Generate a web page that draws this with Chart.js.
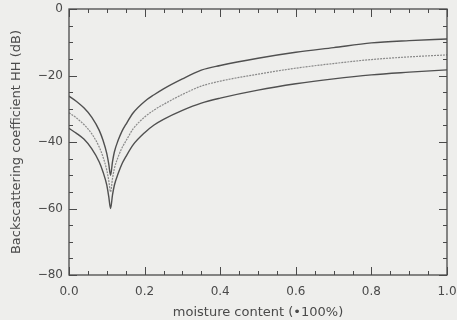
<!DOCTYPE html>
<html lang="en">
<head>
    <meta charset="UTF-8">
    <title>Backscattering vs moisture</title>
    <script src="https://cdn.jsdelivr.net/npm/chart.js"></script>
    <style>
        body { margin: 0; background: #eeeeec; }
        #wrap { width: 457px; height: 320px; }
    </style>
</head>
<body>
    <div id="wrap"><canvas id="chart" width="457" height="320"></canvas></div>

    <script>
        // moisture content (fraction)
        const moisture = [0, 0.02, 0.04, 0.06, 0.08, 0.09, 0.1, 0.105, 0.11, 0.115, 0.12, 0.13, 0.14, 0.15, 0.17,
                          0.2, 0.225, 0.25, 0.3, 0.35, 0.4, 0.5, 0.6, 0.7, 0.8, 0.9, 1.0];
        // backscattering HH (dB): upper bound, mean, lower bound
        const upperHH = [-26.2, -27.8, -29.8, -32.5, -36.5, -39.5, -43.5, -46.5, -50, -46, -43, -39.5, -36.8, -34.8, -31.2,
                         -27.8, -25.8, -24, -21, -18.4, -17, -14.8, -13, -11.6, -10.2, -9.5, -9];
        const meanHH  = [-31.2, -32.8, -34.8, -37.5, -41.5, -44.5, -48.5, -51.5, -55, -51, -48, -44.5, -41.8, -39.8, -36,
                         -32.5, -30.4, -28.7, -25.7, -23.2, -21.7, -19.6, -17.8, -16.4, -15.2, -14.4, -13.8];
        const lowerHH = [-35.9, -37.4, -39.2, -42, -46, -49, -53, -56.3, -60, -56, -53, -49.5, -46.6, -44.5, -40.8,
                         -37.2, -34.9, -33.2, -30.5, -28.3, -26.8, -24.4, -22.5, -21, -19.8, -19, -18.3];

        const xTicks = [0, 0.2, 0.4, 0.6, 0.8, 1.0];
        const yTicks = [-80, -60, -40, -20, 0];

        const ink = '#4a4a4a';

        function toPoints(ys) {
            return moisture.map((x, i) => ({ x: x, y: ys[i] }));
        }

        // frame with inward ticks on all four sides (IDL style)
        const frameTicks = {
            id: 'frameTicks',
            afterDraw(chart) {
                const ctx = chart.ctx;
                const a = chart.chartArea;
                const xs = chart.scales.x;
                const ys = chart.scales.y;
                ctx.save();
                ctx.strokeStyle = ink;
                ctx.lineWidth = 1.3;
                ctx.strokeRect(a.left, a.top, a.right - a.left, a.bottom - a.top);
                ctx.lineWidth = 1;
                ctx.beginPath();
                for (let v = 0; v <= 1.0001; v += 0.05) {
                    const px = Math.round(xs.getPixelForValue(v)) + 0.5;
                    const len = xTicks.some(t => Math.abs(t - v) < 1e-6) ? 8 : 4;
                    ctx.moveTo(px, a.bottom); ctx.lineTo(px, a.bottom - len);
                    ctx.moveTo(px, a.top); ctx.lineTo(px, a.top + len);
                }
                for (let v = -80; v <= 0; v += 5) {
                    const py = Math.round(ys.getPixelForValue(v)) + 0.5;
                    const len = yTicks.includes(v) ? 8 : 4;
                    ctx.moveTo(a.left, py); ctx.lineTo(a.left + len, py);
                    ctx.moveTo(a.right, py); ctx.lineTo(a.right - len, py);
                }
                ctx.stroke();
                ctx.restore();
            }
        };

        const lineStyle = {
            showLine: true,
            pointRadius: 0,
            fill: false,
            cubicInterpolationMode: 'monotone'
        };

        new Chart(document.getElementById('chart').getContext('2d'), {
            type: 'scatter',
            data: {
                datasets: [
                    Object.assign({ label: 'upper', data: toPoints(upperHH), borderColor: '#505050', borderWidth: 1.4 }, lineStyle),
                    Object.assign({ label: 'mean', data: toPoints(meanHH), borderColor: '#8a8a8a', borderWidth: 1.2, borderDash: [2, 1] }, lineStyle),
                    Object.assign({ label: 'lower', data: toPoints(lowerHH), borderColor: '#505050', borderWidth: 1.4 }, lineStyle)
                ]
            },
            options: {
                responsive: false,
                animation: false,
                layout: { padding: { top: 9, right: 10, left: 0, bottom: 0 } },
                plugins: { legend: { display: false }, tooltip: { enabled: false } },
                scales: {
                    x: {
                        type: 'linear',
                        min: 0,
                        max: 1,
                        afterBuildTicks: scale => { scale.ticks = xTicks.map(v => ({ value: v })); },
                        afterFit: scale => {
                            scale.height = 45;
                            scale.paddingLeft = 0;
                            scale.paddingRight = 0;
                        },
                        grid: { display: false, drawTicks: false },
                        border: { display: false },
                        ticks: {
                            color: ink,
                            padding: 10,
                            font: { family: 'DejaVu Sans', size: 12 },
                            callback: v => v.toFixed(1)
                        },
                        title: {
                            display: true,
                            text: 'moisture content (\u2022100%)',
                            color: ink,
                            padding: { top: 0, bottom: 0 },
                            font: { family: 'DejaVu Sans', size: 13 }
                        }
                    },
                    y: {
                        min: -80,
                        max: 0,
                        afterBuildTicks: scale => { scale.ticks = yTicks.map(v => ({ value: v })); },
                        afterFit: scale => {
                            scale.width = 69;
                            scale.paddingTop = 0;
                            scale.paddingBottom = 0;
                        },
                        grid: { display: false, drawTicks: false },
                        border: { display: false },
                        ticks: {
                            color: ink,
                            padding: 6,
                            font: { family: 'DejaVu Sans', size: 12 },
                            callback: v => v < 0 ? '\u2212' + Math.abs(v) : String(v)
                        },
                        title: {
                            display: true,
                            text: 'Backscattering coefficient HH (dB)',
                            color: ink,
                            padding: { top: 9, bottom: 2 },
                            font: { family: 'DejaVu Sans', size: 13 }
                        }
                    }
                }
            },
            plugins: [frameTicks]
        });
    </script>
</body>
</html>
